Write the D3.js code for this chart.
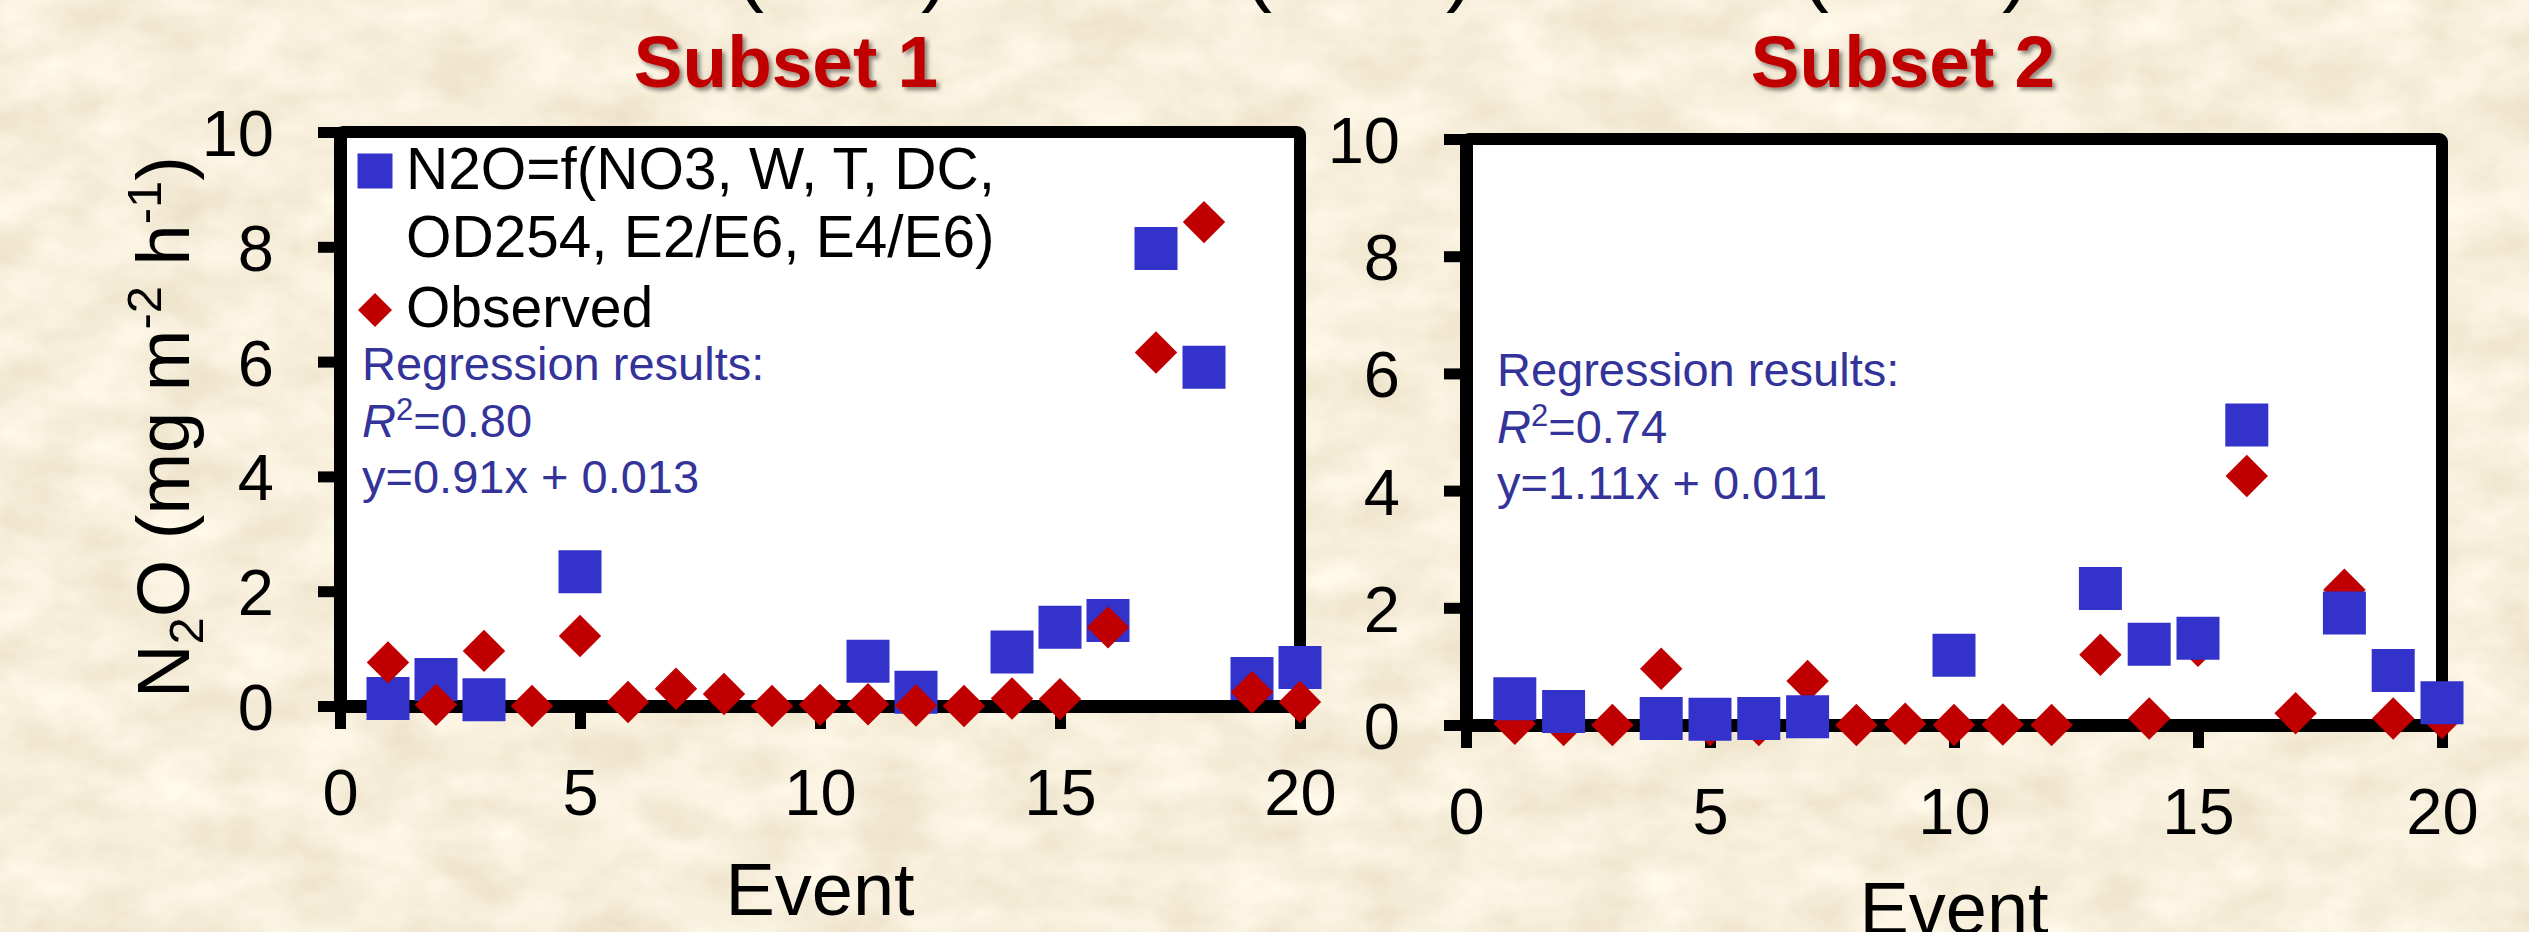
<!DOCTYPE html>
<html>
<head>
<meta charset="utf-8">
<script src="https://cdnjs.cloudflare.com/ajax/libs/d3/7.8.5/d3.min.js"></script>
<style>
  html, body { margin: 0; padding: 0; background: #ecdcb4; }
  svg { display: block; }
  text { font-family: "Liberation Sans", Arial, sans-serif; }
</style>
</head>
<body>
<div id="chart"></div>
<script>
// data (null = point not shown, below axis)
const events = d3.range(1, 21);
const subset1Predicted = [0.13, 0.46, 0.11, null, 2.34, null, null, null, null, null, 0.78, 0.24, null, 0.94, 1.37, 1.49, 7.97, 5.90, 0.48, 0.67];
const subset1Observed  = [0.76, 0.02, 0.96, 0.00, 1.22, 0.07, 0.30, 0.21, 0.00, 0.02, 0.03, 0.01, 0.00, 0.13, 0.12, 1.37, 6.16, 8.43, 0.24, 0.07];
const subset2Predicted = [0.45, 0.23, null, 0.11, 0.10, 0.11, 0.14, null, null, 1.19, null, null, 2.33, 1.38, 1.48, 5.12, null, 1.91, 0.93, 0.38];
const subset2Observed  = [0.02, 0.00, 0.00, 0.96, 0.00, 0.00, 0.75, 0.00, 0.02, 0.00, 0.01, 0.00, 1.20, 0.11, 1.35, 4.25, 0.20, 2.31, 0.11, 0.12];

const xTicks = [0, 5, 10, 15, 20];
const yTicks = [0, 2, 4, 6, 8, 10];
const subsetTitles = ["Subset 1", "Subset 2"];
const legendLabels = [["N2O=f(NO3, W, T, DC,", "OD254, E2/E6, E4/E6)"], ["Observed"]];
const r2Values = ["0.80", "0.74"];
const regressionLines = ["y=0.91x + 0.013", "y=1.11x + 0.011"];

const W = 2529, H = 932;
const BLUE = "#3333cc", RED = "#c00000", TEXTBLUE = "#333399";

var svg = d3.select("#chart").append("svg")
    .attr("width", W)
    .attr("height", H);

// parchment background
var defs = svg.append("defs");
var paper = defs.append("filter").attr("id", "paper")
    .attr("x", 0).attr("y", 0).attr("width", "100%").attr("height", "100%");
paper.append("feTurbulence")
    .attr("type", "fractalNoise")
    .attr("baseFrequency", "0.014 0.022")
    .attr("numOctaves", 5)
    .attr("seed", 11);
paper.append("feColorMatrix")
    .attr("type", "matrix")
    .attr("values", "0.22 0 0 0 0.82  0.26 0 0 0 0.73  0.32 0 0 0 0.55  0 0 0 0 1");

var shadow = defs.append("filter").attr("id", "shadow")
    .attr("x", "-10%").attr("y", "-20%").attr("width", "130%").attr("height", "150%");
shadow.append("feDropShadow")
    .attr("dx", 3).attr("dy", 3).attr("stdDeviation", 2)
    .attr("flood-color", "#000").attr("flood-opacity", 0.45);

svg.append("rect").attr("width", W).attr("height", H).attr("fill", "#ecdcb4");
svg.append("rect").attr("width", W).attr("height", H).attr("filter", "url(#paper)");

// bottoms of the slide heading's brackets, cut off at the top edge
const bracketX = [[750, "("], [935, ")"], [1258, "("], [1460, ")"], [1815, "("], [2016, ")"]];
svg.selectAll(".bracket").data(bracketX).enter().append("text")
    .attr("class", "bracket")
    .attr("x", d => d[0]).attr("y", -4)
    .attr("text-anchor", "middle")
    .attr("font-size", 84)
    .text(d => d[1]);

// layout for the two panels
const panels = [
  { pred: subset1Predicted, obs: subset1Observed, left: 340, right: 1300, bottom: 706, top: 132,
    title: subsetTitles[0], titleX: 786, titleY: 87, legend: true, obsOnTop: true,
    regX: 362, regY: 380, r2: r2Values[0], eq: regressionLines[0], xTitleY: 915 },
  { pred: subset2Predicted, obs: subset2Observed, left: 1466, right: 2442, bottom: 725, top: 139,
    title: subsetTitles[1], titleX: 1903, titleY: 87, legend: false, obsOnTop: false,
    regX: 1497, regY: 386, r2: r2Values[1], eq: regressionLines[1], xTitleY: 934 }
];

const squareSym = d3.symbol().type(d3.symbolSquare).size(43 * 43);
const diamondSym = d3.symbol().type(d3.symbolSquare).size(30 * 30);

panels.forEach(p => {
  const x = d3.scaleLinear().domain([0, 20]).range([p.left, p.right]);
  const y = d3.scaleLinear().domain([0, 10]).range([p.bottom, p.top]);

  const g = svg.append("g");

  // plot area
  g.append("rect")
      .attr("x", x(0)).attr("y", y(10))
      .attr("width", x(20) - x(0)).attr("height", y(0) - y(10))
      .attr("fill", "#fff")
      .attr("stroke", "#000")
      .attr("stroke-width", 12)
      .attr("rx", 3);

  // axes
  const yAxis = d3.axisLeft(y).tickValues(yTicks).tickSize(22).tickSizeOuter(0).tickPadding(44);
  const xAxis = d3.axisBottom(x).tickValues(xTicks).tickSize(23).tickSizeOuter(0).tickPadding(40);

  const ya = g.append("g").attr("transform", `translate(${x(0)},0)`).call(yAxis);
  const xa = g.append("g").attr("transform", `translate(0,${y(0)})`).call(xAxis);

  [ya, xa].forEach(a => {
    a.select(".domain").attr("stroke", "#000").attr("stroke-width", 13);
    a.selectAll(".tick line").attr("stroke", "#000").attr("stroke-width", 11);
    a.selectAll(".tick text")
        .attr("fill", "#000")
        .attr("font-size", 65)
        .attr("font-family", "Liberation Sans, Arial, sans-serif");
  });
  ya.selectAll(".tick text").attr("dy", "0.36em");

  // x axis title
  g.append("text")
      .attr("x", (x(0) + x(20)) / 2).attr("y", p.xTitleY)
      .attr("text-anchor", "middle")
      .attr("font-size", 74)
      .text("Event");

  // subset title
  g.append("text")
      .attr("x", p.titleX).attr("y", p.titleY)
      .attr("text-anchor", "middle")
      .attr("font-size", 73)
      .attr("font-weight", "bold")
      .attr("fill", RED)
      .attr("filter", "url(#shadow)")
      .text(p.title);

  // regression text
  const reg = g.append("g").attr("fill", TEXTBLUE).attr("font-size", 47);
  reg.append("text").attr("x", p.regX).attr("y", p.regY).text("Regression results:");
  const r2 = reg.append("text").attr("x", p.regX).attr("y", p.regY + 57);
  r2.append("tspan").attr("font-style", "italic").text("R");
  r2.append("tspan").attr("font-size", 31).attr("dy", -17).text("2");
  r2.append("tspan").attr("dy", 17).text("=" + p.r2);
  reg.append("text").attr("x", p.regX).attr("y", p.regY + 113).text(p.eq);

  // markers
  const predPts = events.map((e, i) => [e, p.pred[i]]).filter(d => d[1] != null);
  const obsPts = events.map((e, i) => [e, p.obs[i]]).filter(d => d[1] != null);

  const drawPred = () => g.append("g").selectAll("path").data(predPts).enter().append("path")
      .attr("d", squareSym)
      .attr("fill", BLUE)
      .attr("transform", d => `translate(${x(d[0])},${y(d[1])})`);
  const drawObs = () => g.append("g").selectAll("path").data(obsPts).enter().append("path")
      .attr("d", diamondSym)
      .attr("fill", RED)
      .attr("transform", d => `translate(${x(d[0])},${y(d[1])}) rotate(45)`);

  if (p.obsOnTop) { drawPred(); drawObs(); } else { drawObs(); drawPred(); }

  // legend (left panel only)
  if (p.legend) {
    const lg = g.append("g").attr("font-size", 58.5).attr("fill", "#000");
    lg.append("path").attr("d", d3.symbol().type(d3.symbolSquare).size(35 * 35))
        .attr("fill", BLUE).attr("transform", "translate(375,171)");
    lg.append("text").attr("x", 406).attr("y", 189).text(legendLabels[0][0]);
    lg.append("text").attr("x", 406).attr("y", 257).text(legendLabels[0][1]);
    lg.append("path").attr("d", d3.symbol().type(d3.symbolSquare).size(24 * 24))
        .attr("fill", RED).attr("transform", "translate(375,310) rotate(45)");
    lg.append("text").attr("x", 406).attr("y", 327).attr("font-size", 57).text(legendLabels[1][0]);
  }
});

// y axis title (shared, left side)
const yTitle = svg.append("text")
    .attr("transform", "translate(189,427) rotate(-90)")
    .attr("text-anchor", "middle")
    .attr("font-size", 74);
yTitle.append("tspan").text("N");
yTitle.append("tspan").attr("font-size", 49).attr("dy", 14).text("2");
yTitle.append("tspan").attr("dy", -14).text("O (mg m");
yTitle.append("tspan").attr("font-size", 49).attr("dy", -28).text("-2");
yTitle.append("tspan").attr("dy", 28).text(" h");
yTitle.append("tspan").attr("font-size", 49).attr("dy", -28).text("-1");
yTitle.append("tspan").attr("dy", 28).text(")");
</script>
</body>
</html>
